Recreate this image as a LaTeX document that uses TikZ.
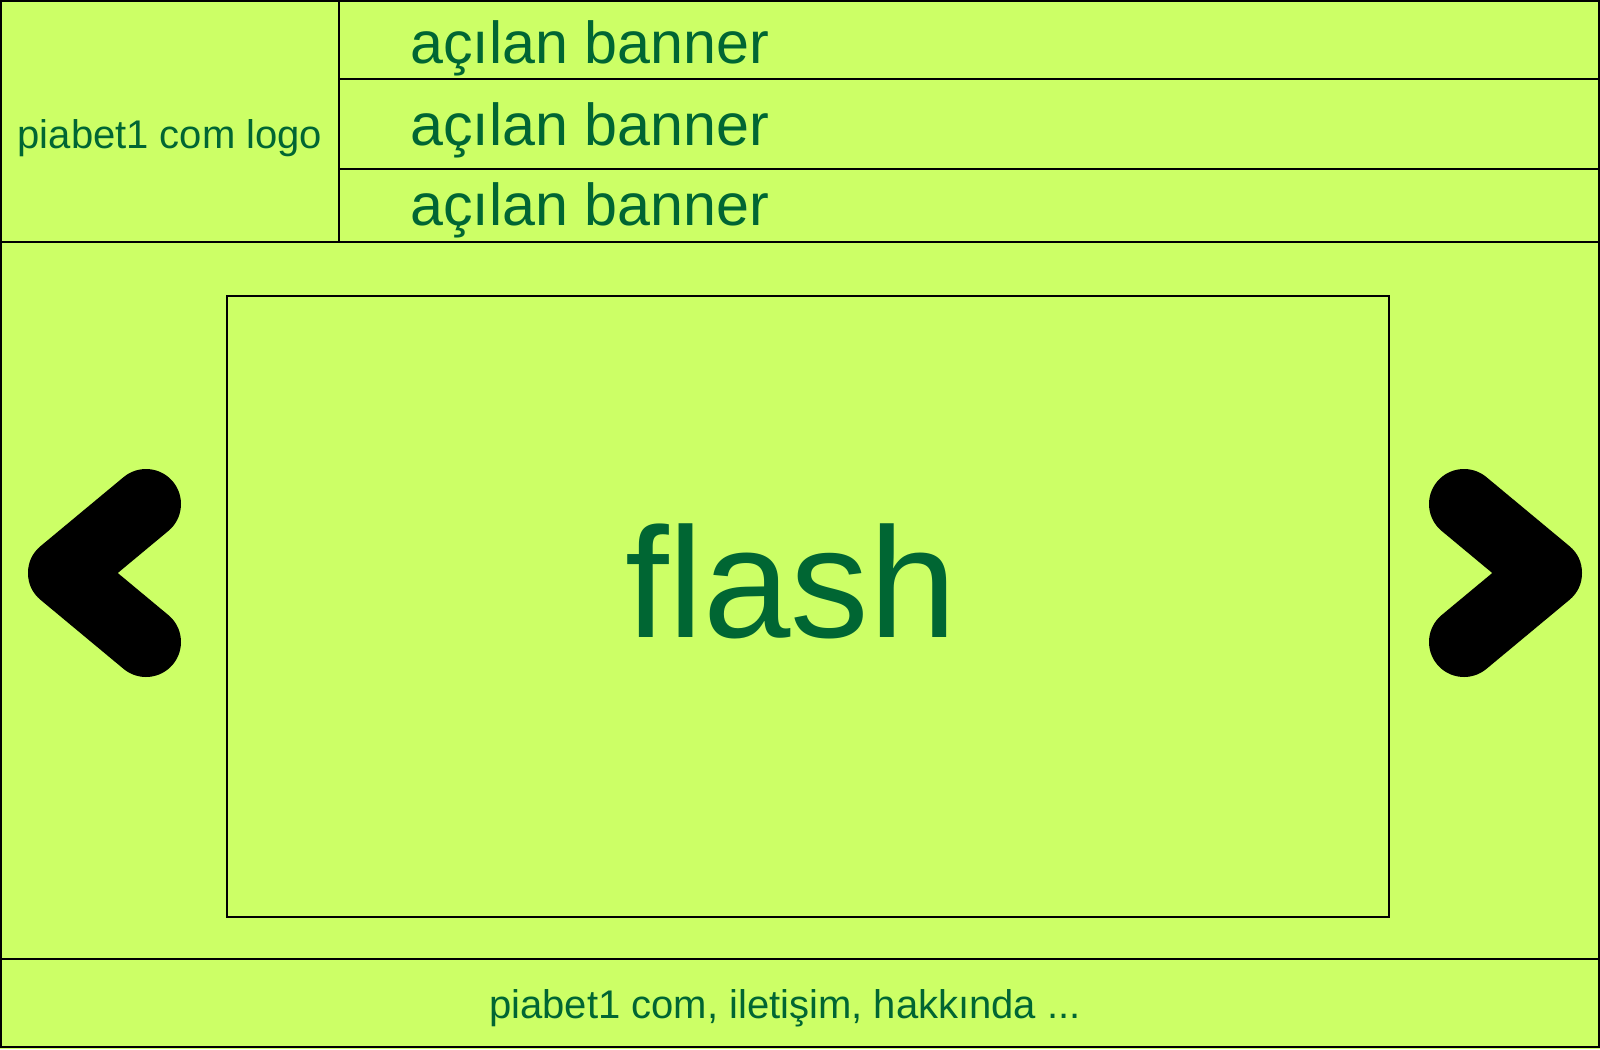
\documentclass[tikz,border=0pt]{standalone}
\usepackage{fontspec}
\setmainfont{Liberation Sans}
\definecolor{bg}{HTML}{CCFF66}
\definecolor{txt}{HTML}{006633}
\begin{document}
\begin{tikzpicture}[x=0.5pt,y=-0.5pt,
  frame/.style={draw=black,line width=0.8pt},
  lbl/.style={text=txt,inner sep=0pt,anchor=base},
  chev/.style={draw=black,line width=35pt,line cap=round,line join=round}]
\useasboundingbox (0,0) rectangle (1600,1049);
\fill[bg] (0,0) rectangle (1600,1049);
\draw[frame] (1,1) rectangle (1599,1047);
\draw[frame] (1,242) -- (1599,242);
\draw[frame] (339,1) -- (339,242);
\draw[frame] (339,79) -- (1599,79);
\draw[frame] (339,169) -- (1599,169);
\draw[frame] (1,959) -- (1599,959);
\draw[frame] (227,296) rectangle (1389,917);
\draw[chev] (146,504) -- (63,573) -- (146,642);
\draw[chev] (1464,504) -- (1547,573) -- (1464,642);
\node[lbl,font=\fontsize{20}{24}\selectfont] (logo) at (170,148) {piabet1 com logo};
\node[lbl,anchor=base west,font=\fontsize{29.6}{35}\selectfont] (b1) at (410,63) {açılan banner};
\node[lbl,anchor=base west,font=\fontsize{29.6}{35}\selectfont] (b2) at (410,145) {açılan banner};
\node[lbl,anchor=base west,font=\fontsize{29.6}{35}\selectfont] (b3) at (410,225) {açılan banner};
\node[lbl,font=\fontsize{78.5}{90}\selectfont] (flash) at (791,637) {flash};
\node[lbl,font=\fontsize{20}{24}\selectfont] (foot) at (785,1018) {piabet1 com, iletişim, hakkında ...};
\end{tikzpicture}
\end{document}
